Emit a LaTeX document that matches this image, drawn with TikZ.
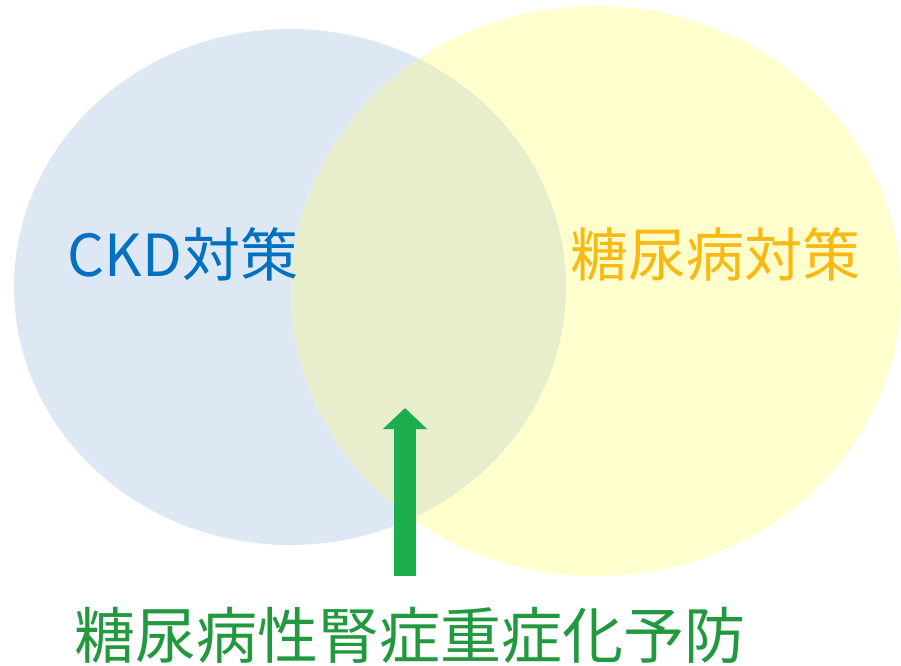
\documentclass[tikz,border=0pt]{standalone}
\usepackage{fontspec}
\setmainfont{Noto Sans CJK JP}
\usetikzlibrary{shapes.geometric,arrows.meta}
\definecolor{ckdfill}{HTML}{DEE8F5}
\definecolor{dmfill}{HTML}{FFFFCD}
\definecolor{bothfill}{HTML}{E8EECB}
\definecolor{ckdtext}{HTML}{0070C0}
\definecolor{dmtext}{HTML}{F9B914}
\definecolor{goaltext}{HTML}{22983F}
\definecolor{arrowgreen}{HTML}{1BAE4E}
\tikzset{
  circlebox/.style={ellipse, inner sep=0pt, draw=none},
  labeltext/.style={inner sep=0pt, font=\fontsize{58}{60}\selectfont},
  goalarrow/.style={draw=arrowgreen, line width=22pt, -{Triangle[width=43pt,length=21pt]}}
}
\begin{document}
\begin{tikzpicture}[x=1pt,y=-1pt]
\useasboundingbox (0,0) rectangle (901,665);
\fill[white] (0,0) rectangle (901,665);
\node[circlebox, fill=ckdfill, minimum width=552pt, minimum height=516pt] (ckd) at (290,287) {};
\node[circlebox, fill=dmfill, minimum width=610pt, minimum height=570pt] (dm) at (596,291) {};
\begin{scope}
  \clip (290,287) ellipse [x radius=276, y radius=258];
  \fill[bothfill] (596,291) ellipse [x radius=305, y radius=285];
\end{scope}
\node[labeltext, text=ckdtext] (ckdlabel) at (183,254) {CKD対策};
\node[labeltext, text=dmtext] (dmlabel) at (715,254) {糖尿病対策};
\node[labeltext, text=goaltext, font=\fontsize{61}{63}\selectfont] (goal) at (410,635) {糖尿病性腎症重症化予防};
\coordinate (tail) at (405,576);
\coordinate (tip) at (405,408);
\draw[goalarrow] (tail) -- (tip);
\end{tikzpicture}
\end{document}
